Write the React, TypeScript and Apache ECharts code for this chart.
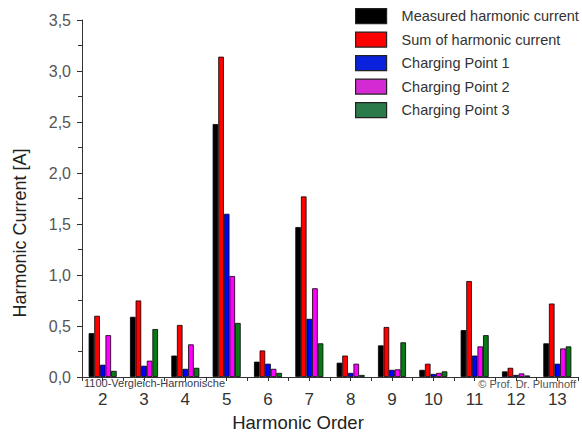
import React, { useEffect, useRef } from "react";
import * as echarts from "echarts";

const categories = ["2", "3", "4", "5", "6", "7", "8", "9", "10", "11", "12", "13"];
const measured = [0.43, 0.59, 0.21, 2.48, 0.15, 1.47, 0.14, 0.31, 0.07, 0.46, 0.055, 0.33];
const sumHarm = [0.6, 0.75, 0.51, 3.14, 0.26, 1.77, 0.21, 0.49, 0.13, 0.94, 0.09, 0.72];
const cp1 = [0.12, 0.11, 0.08, 1.6, 0.13, 0.57, 0.04, 0.07, 0.03, 0.21, 0.02, 0.13];
const cp2 = [0.41, 0.16, 0.32, 0.99, 0.08, 0.87, 0.13, 0.075, 0.04, 0.3, 0.035, 0.28];
const cp3 = [0.06, 0.47, 0.09, 0.53, 0.04, 0.33, 0.02, 0.34, 0.055, 0.41, 0.015, 0.3];
const seriesNames = [
  "Measured harmonic current",
  "Sum of harmonic current",
  "Charging Point 1",
  "Charging Point 2",
  "Charging Point 3",
];
const barColors = ["#000000", "#ff0000", "#0000ff", "#ff00ff", "#087a14"];
const legendColors = ["#000000", "#ff0000", "#0a22dd", "#d42ad4", "#2a7a4a"];

const FONT = "'Liberation Sans', Arial, sans-serif";

export default function App() {
  const ref = useRef<HTMLDivElement>(null);
  useEffect(() => {
    document.body.style.margin = "0";
    const chart = echarts.init(ref.current!, undefined, { renderer: "svg" });
    const data = [measured, sumHarm, cp1, cp2, cp3];
    const axisLine = { show: true, lineStyle: { color: "#333", width: 1 } };
    chart.setOption({
      animation: false,
      backgroundColor: "#ffffff",
      textStyle: { fontFamily: FONT },
      grid: { left: 82, right: 4, top: 20, bottom: 58 },
      legend: {
        orient: "vertical",
        left: 350,
        top: 3,
        itemWidth: 31,
        itemHeight: 15,
        itemGap: 7.3,
        icon: "rect",
        selectedMode: false,
        textStyle: { fontFamily: FONT, fontSize: 14.5, color: "#333", padding: [0, 0, 0, 10] },
        data: seriesNames.map((n, i) => ({
          name: n,
          itemStyle: { color: legendColors[i], borderColor: "#222", borderWidth: 1.2 },
        })),
      },
      xAxis: [
        {
          type: "category",
          data: categories,
          position: "bottom",
          axisLine,
          axisTick: { show: true, length: 4, lineStyle: { color: "#333" } },
          axisLabel: { fontFamily: FONT, fontSize: 17, color: "#333", margin: 14 },
        },
        {
          type: "category",
          data: categories,
          position: "bottom",
          axisLine: { show: false },
          axisTick: { show: true, alignWithLabel: true, length: 4, lineStyle: { color: "#333" } },
          axisLabel: { show: false },
        },
      ],
      yAxis: {
        type: "value",
        min: 0,
        max: 3.5,
        interval: 0.5,
        axisLine,
        axisTick: { show: true, length: 5, lineStyle: { color: "#333" } },
        minorTick: { show: true, splitNumber: 2, length: 4, lineStyle: { color: "#333" } },
        splitLine: { show: false },
        axisLabel: {
          fontFamily: FONT,
          fontSize: 16,
          color: "#555",
          margin: 11,
          formatter: (v: number) => v.toFixed(1).replace(".", ","),
        },
      },
      graphic: [
        {
          type: "text",
          x: 20,
          y: 233,
          rotation: Math.PI / 2,
          style: {
            text: "Harmonic Current [A]",
            fontFamily: FONT,
            fontSize: 18,
            fill: "#222",
            align: "center",
            verticalAlign: "middle",
          },
        },
        {
          type: "text",
          x: 298,
          y: 422,
          style: {
            text: "Harmonic Order",
            fontFamily: FONT,
            fontSize: 18.5,
            fill: "#222",
            align: "center",
            verticalAlign: "middle",
          },
        },
        {
          type: "text",
          x: 84,
          y: 383,
          style: {
            text: "1100-Vergleich-Harmonische",
            fontFamily: FONT,
            fontSize: 11,
            fill: "#3a3a4a",
            align: "left",
            verticalAlign: "middle",
          },
        },
        {
          type: "text",
          x: 576,
          y: 384,
          style: {
            text: "© Prof. Dr. Plumhoff",
            fontFamily: FONT,
            fontSize: 11,
            fill: "#555",
            align: "right",
            verticalAlign: "middle",
          },
        },
      ],
      series: seriesNames.map((n, i) => ({
        name: n,
        type: "bar",
        data: data[i],
        barWidth: 5.6,
        barGap: "0%",
        itemStyle: { color: barColors[i], borderColor: "#000", borderWidth: 0.8 },
      })),
    });
    return () => chart.dispose();
  }, []);
  return (
    <div
      ref={ref}
      style={{ width: 582, height: 435, position: "absolute", left: 0, top: 0 }}
    />
  );
}
